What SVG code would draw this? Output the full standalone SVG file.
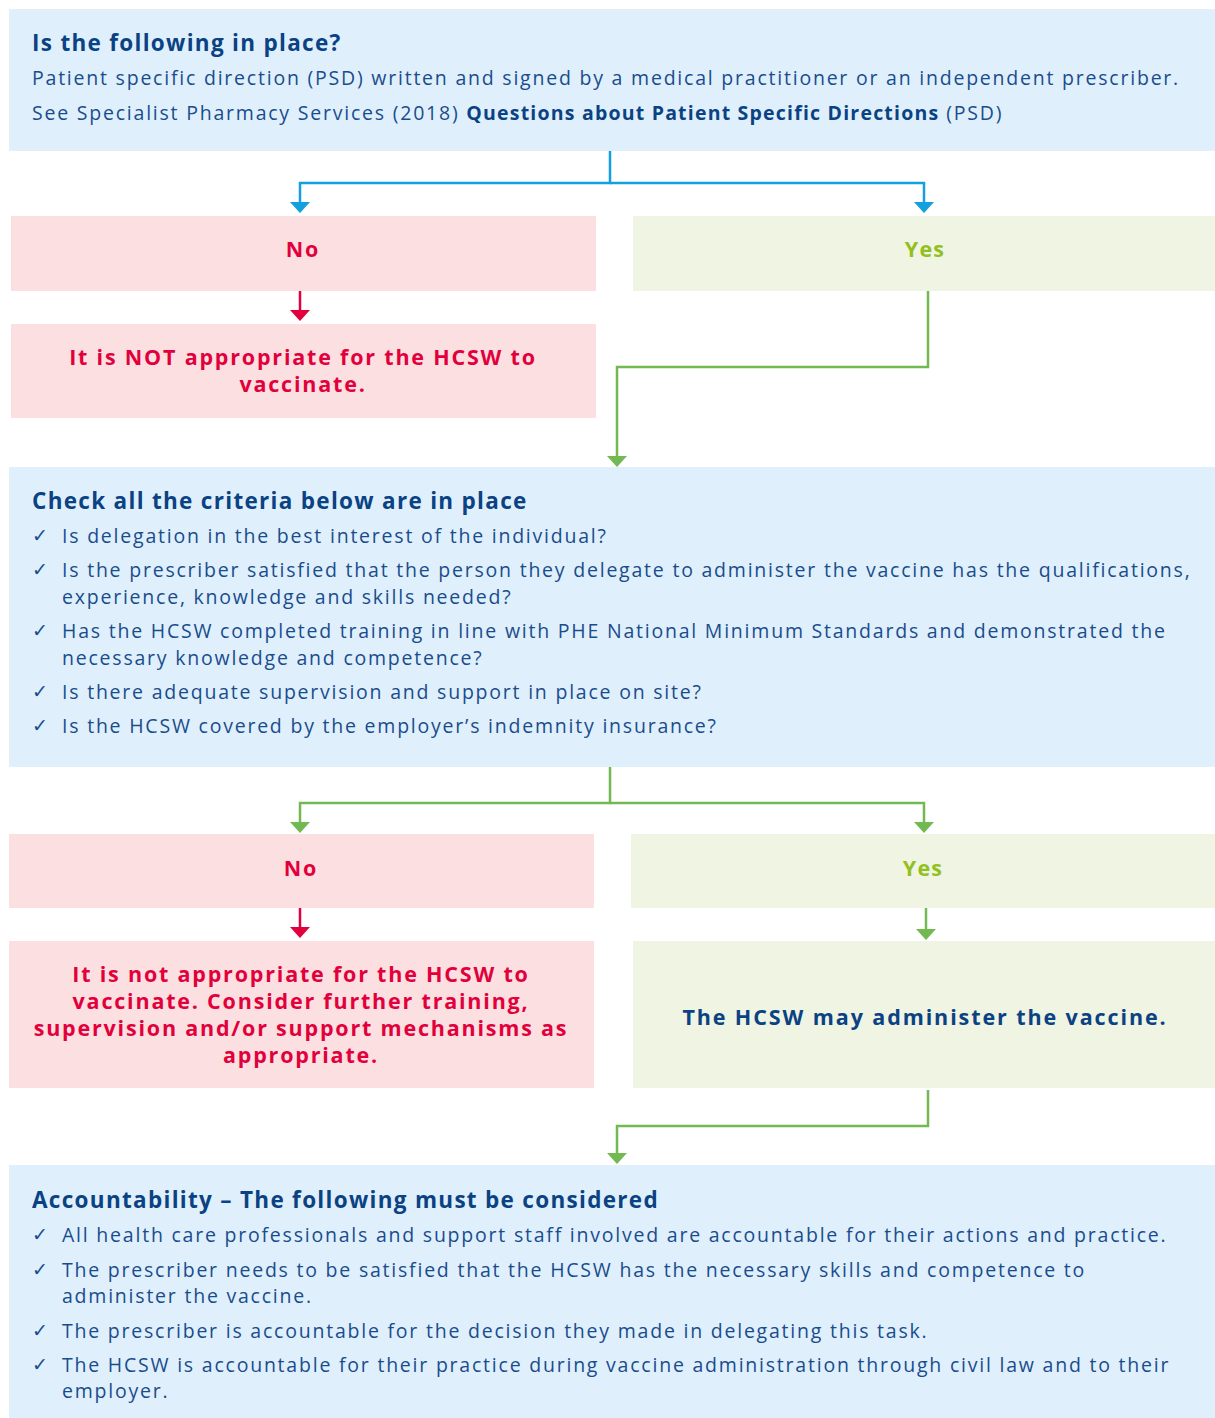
<svg xmlns="http://www.w3.org/2000/svg" width="1215" height="1418" viewBox="0 0 1215 1418">
<defs>
<style>
.blue{fill:#dff0fc}
.pink{fill:#fce0e1}
.green{fill:#eff4e3}
text{font-family:"Open Sans","Liberation Sans",sans-serif}
.h{font-size:22.5px;font-weight:700;fill:#0a4283;letter-spacing:1.3px}
.b{font-size:19.5px;fill:#1a4c8c;letter-spacing:1.78px}
.bb{font-weight:700;fill:#0a4283;letter-spacing:1.2px}
.ck{font-family:"DejaVu Sans",sans-serif;font-size:19px;fill:#1a4c8c}
.no{font-size:21.5px;font-weight:700;fill:#e2003c;text-anchor:middle;letter-spacing:1.8px}
.yes{font-size:21.5px;font-weight:700;fill:#93c01f;text-anchor:middle;letter-spacing:1.2px}
.ok{font-size:21.5px;font-weight:700;fill:#0a4283;text-anchor:middle;letter-spacing:1.9px}
.cb{fill:none;stroke:#12a0df;stroke-width:2.5}
.cg{fill:none;stroke:#72b952;stroke-width:2.5}
.cr{fill:none;stroke:#e2003c;stroke-width:2.5}
.ahb{fill:#12a0df}
.ahg{fill:#72b952}
.ahr{fill:#e2003c}
</style>
</defs>

<g id="connectors">
<path class="cb" d="M610,151 V183 H300 V203"/>
<path class="cb" d="M610,183 H924 V203"/>
<polygon class="ahb" points="290,202 310,202 300,213"/>
<polygon class="ahb" points="914,202 934,202 924,213"/>
<path class="cr" d="M300,291 V311"/>
<polygon class="ahr" points="290,310 310,310 300,321"/>
<path class="cg" d="M928,291 V367 H617 V457"/>
<polygon class="ahg" points="607,456 627,456 617,467"/>
<path class="cg" d="M610,767 V803 H300 V823"/>
<path class="cg" d="M610,803 H924 V823"/>
<polygon class="ahg" points="290,822 310,822 300,833"/>
<polygon class="ahg" points="914,822 934,822 924,833"/>
<path class="cr" d="M300,908 V928"/>
<polygon class="ahr" points="290,927 310,927 300,938"/>
<path class="cg" d="M926,908 V929"/>
<polygon class="ahg" points="916,929 936,929 926,940"/>
<path class="cg" d="M928,1090 V1126 H617 V1154"/>
<polygon class="ahg" points="607,1153 627,1153 617,1164"/>
</g>

<g id="q1">
<rect class="blue" x="9" y="9" width="1206" height="142"/>
<text class="h" x="32" y="51">Is the following in place?</text>
<text class="b" x="32" y="85">Patient specific direction (PSD) written and signed by a medical practitioner or an independent prescriber.</text>
<text class="b" x="32" y="120">See Specialist Pharmacy Services (2018) <tspan class="bb">Questions about Patient Specific Directions</tspan> (PSD)</text>
</g>

<g id="no1">
<rect class="pink" x="11" y="216" width="585" height="75"/>
<text class="no" x="303" y="257">No</text>
</g>

<g id="yes1">
<rect class="green" x="633" y="216" width="582" height="75"/>
<text class="yes" x="925" y="257">Yes</text>
</g>

<g id="notappropriate1">
<rect class="pink" x="11" y="324" width="585" height="94"/>
<text class="no" x="303" y="365">It is NOT appropriate for the HCSW to</text>
<text class="no" x="303" y="392">vaccinate.</text>
</g>

<g id="q2">
<rect class="blue" x="9" y="467" width="1206" height="300"/>
<text class="h" x="32" y="509">Check all the criteria below are in place</text>
<text class="ck" x="32" y="542">✓</text>
<text class="b" x="62" y="543">Is delegation in the best interest of the individual?</text>
<text class="ck" x="32" y="576">✓</text>
<text class="b" x="62" y="577">Is the prescriber satisfied that the person they delegate to administer the vaccine has the qualifications,</text>
<text class="b" x="62" y="604">experience, knowledge and skills needed?</text>
<text class="ck" x="32" y="637">✓</text>
<text class="b" x="62" y="638">Has the HCSW completed training in line with PHE National Minimum Standards and demonstrated the</text>
<text class="b" x="62" y="665">necessary knowledge and competence?</text>
<text class="ck" x="32" y="698">✓</text>
<text class="b" x="62" y="699">Is there adequate supervision and support in place on site?</text>
<text class="ck" x="32" y="732">✓</text>
<text class="b" x="62" y="733">Is the HCSW covered by the employer’s indemnity insurance?</text>
</g>

<g id="no2">
<rect class="pink" x="9" y="834" width="585" height="74"/>
<text class="no" x="301" y="876">No</text>
</g>

<g id="yes2">
<rect class="green" x="631" y="834" width="584" height="74"/>
<text class="yes" x="923" y="876">Yes</text>
</g>

<g id="notappropriate2">
<rect class="pink" x="9" y="941" width="585" height="147"/>
<text class="no" x="301" y="982">It is not appropriate for the HCSW to</text>
<text class="no" x="301" y="1009">vaccinate. Consider further training,</text>
<text class="no" x="301" y="1036">supervision and/or support mechanisms as</text>
<text class="no" x="301" y="1063">appropriate.</text>
</g>

<g id="mayadminister">
<rect class="green" x="633" y="941" width="582" height="147"/>
<text class="ok" x="925" y="1025">The HCSW may administer the vaccine.</text>
</g>

<g id="accountability">
<rect class="blue" x="9" y="1165" width="1206" height="253"/>
<text class="h" x="32" y="1208">Accountability – The following must be considered</text>
<text class="ck" x="32" y="1241">✓</text>
<text class="b" x="62" y="1242">All health care professionals and support staff involved are accountable for their actions and practice.</text>
<text class="ck" x="32" y="1276">✓</text>
<text class="b" x="62" y="1277">The prescriber needs to be satisfied that the HCSW has the necessary skills and competence to</text>
<text class="b" x="62" y="1303">administer the vaccine.</text>
<text class="ck" x="32" y="1337">✓</text>
<text class="b" x="62" y="1338">The prescriber is accountable for the decision they made in delegating this task.</text>
<text class="ck" x="32" y="1371">✓</text>
<text class="b" x="62" y="1372">The HCSW is accountable for their practice during vaccine administration through civil law and to their</text>
<text class="b" x="62" y="1398">employer.</text>
</g>
</svg>
